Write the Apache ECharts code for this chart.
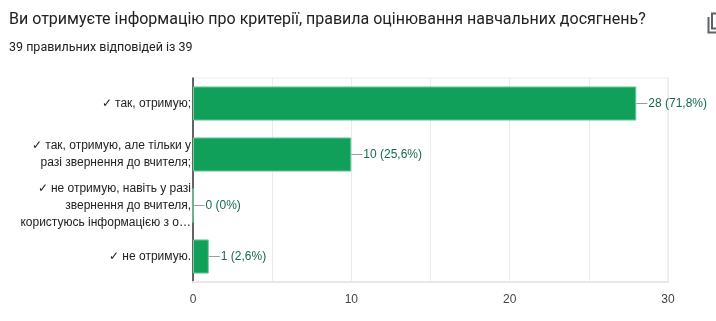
<!DOCTYPE html>
<html>
<head>
<meta charset="utf-8">
<script src="https://cdn.jsdelivr.net/npm/echarts@6/dist/echarts.min.js"></script>
<style>
html,body{margin:0;padding:0;background:#fff;}
#chart{width:716px;height:321px;}
</style>
</head>
<body>
<div id="chart"></div>
<script>
const titleText = 'Ви отримуєте інформацію про критерії, правила оцінювання навчальних досягнень?';
const subtitleText = '39 правильних відповідей із 39';
const categories = [
  '✓ так, отримую;',
  '✓ так, отримую, але тільки у\nразі звернення до вчителя;',
  '✓ не отримую, навіть у разі\nзвернення до вчителя,\nкористуюсь інформацією з о…',
  '✓ не отримую.'
];
const counts = [28, 10, 0, 1];
const percents = ['71,8%', '25,6%', '0%', '2,6%'];
const xTicks = [0, 10, 20, 30];

const chart = echarts.init(document.getElementById('chart'), null, {renderer: 'canvas'});
chart.setOption({
  animation: false,
  backgroundColor: '#fff',
  title: {
    text: titleText,
    subtext: subtitleText,
    left: 9,
    top: 12,
    padding: 0,
    itemGap: 13,
    textStyle: {fontFamily: 'Roboto', fontSize: 16, fontWeight: 'normal', color: '#202124'},
    subtextStyle: {fontFamily: 'Roboto', fontSize: 12.5, color: '#202124'}
  },
  grid: {
    left: 193, right: 48, top: 78, bottom: 39,
    show: true, borderColor: '#ebebeb', borderWidth: 1
  },
  xAxis: {
    type: 'value',
    min: 0, max: 30, interval: 5,
    axisLine: {show: true, lineStyle: {color: '#e8e8e8', width: 2}},
    axisTick: {show: false},
    splitLine: {show: true, lineStyle: {color: '#ebebeb', width: 1}},
    axisLabel: {
      margin: 12,
      fontFamily: 'Arial, Liberation Sans',
      fontSize: 12,
      color: '#444',
      formatter: v => xTicks.indexOf(v) >= 0 ? String(v) : ''
    }
  },
  yAxis: {
    type: 'category',
    inverse: true,
    data: categories,
    axisLine: {show: true, onZero: false, lineStyle: {color: '#333', width: 1.5}},
    axisTick: {show: false},
    axisLabel: {
      margin: 2,
      fontFamily: 'Arial, Liberation Sans',
      fontSize: 12,
      lineHeight: 17,
      color: '#222',
      align: 'right'
    }
  },
  series: [{
    type: 'bar',
    data: counts,
    barCategoryGap: '33%',
    itemStyle: {color: '#11a05a', borderColor: '#74cd9e', borderWidth: 1},
    label: {
      show: true,
      position: 'right',
      distance: 0,
      formatter: p => '{l|}{t|' + p.value + ' (' + percents[p.dataIndex] + ')}',
      rich: {
        l: {width: 11, height: 1, backgroundColor: '#9e9e9e', verticalAlign: 'middle'},
        t: {fontFamily: 'Arial, Liberation Sans', fontSize: 12, color: '#14694f', padding: [0, 0, 0, 1], verticalAlign: 'middle'}
      }
    }
  }],
  graphic: [
    {type: 'polyline', shape: {points: [[708.5, 17], [708.5, 32.5], [720, 32.5]]}, style: {stroke: '#5f6368', lineWidth: 2, fill: null}},
    {type: 'rect', shape: {x: 712, y: 13.5, width: 14, height: 15}, style: {stroke: '#5f6368', lineWidth: 2, fill: null}}
  ]
});
</script>
</body>
</html>
